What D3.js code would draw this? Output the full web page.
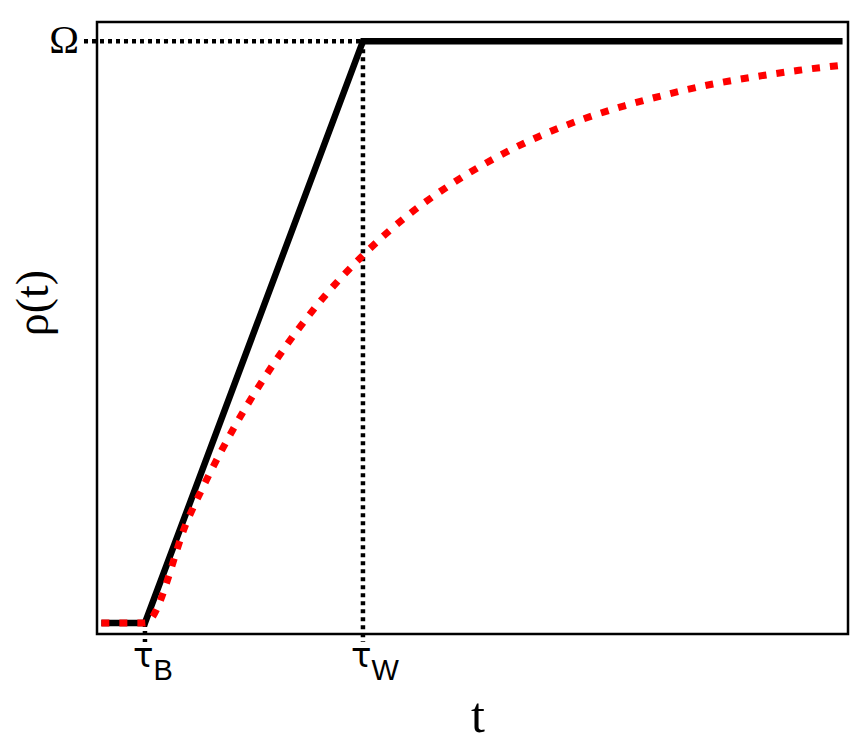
<!DOCTYPE html>
<html><head><meta charset="utf-8">
<script src="https://cdn.jsdelivr.net/npm/d3@7"></script>
<style>body{margin:0;background:#fff}svg{display:block}</style>
</head><body>
<script>
// ---- data ----
const tauB = 1.0, tauW = 2.0, omega = 1.0;
const blackT = [0.8, 1.0, 2.0, 4.2];
const blackRho = [0, 0, 1, 1];
const redT = [0.8, 1.0, 1.2, 1.4, 1.6, 1.8, 2.0, 2.2, 2.4, 2.6, 2.8, 3.0, 3.2, 3.4, 3.6, 3.8, 4.0, 4.18];
const redRho = [0, 0, 0.181, 0.330, 0.451, 0.551, 0.632, 0.699, 0.753, 0.798, 0.835, 0.865, 0.889, 0.909, 0.926, 0.939, 0.950, 0.958];
const xTickLabels = [{t: tauB, sub: "B"}, {t: tauW, sub: "W"}];
const yTickLabel = "Ω";

const W = 860, H = 744;
const svg = d3.select("body").append("svg").attr("width", W).attr("height", H);
const x = d3.scaleLinear().domain([0.78, 4.225]).range([97, 848]);
const y = d3.scaleLinear().domain([-0.019, 1.033]).range([634, 22]);

// frame
svg.append("rect").attr("x", x(0.78)).attr("y", y(1.033))
  .attr("width", x(4.225) - x(0.78)).attr("height", y(-0.019) - y(1.033))
  .attr("fill", "none").attr("stroke", "#000").attr("stroke-width", 2.5);

const line = d3.line().x(d => x(d[0])).y(d => y(d[1]));

// dotted guides
const dot = g => g.attr("stroke", "#000").attr("stroke-width", 4.5).attr("stroke-dasharray", "4,4").attr("fill", "none");
svg.append("line").attr("x1", 84).attr("x2", x(tauW)).attr("y1", y(omega)).attr("y2", y(omega)).call(dot);
svg.append("line").attr("x1", x(tauW)).attr("x2", x(tauW)).attr("y1", y(omega)).attr("y2", 642).call(dot);
svg.append("line").attr("x1", x(tauB)).attr("x2", x(tauB)).attr("y1", y(0)).attr("y2", 642).call(dot);

// black solid
svg.append("path").datum(blackT.map((t, i) => [t, blackRho[i]]))
  .attr("d", line).attr("fill", "none").attr("stroke", "#000")
  .attr("stroke-width", 6.5).attr("stroke-linejoin", "miter");

// red dashed
svg.append("path").datum(redT.map((t, i) => [t, redRho[i]]))
  .attr("d", d3.line().curve(d3.curveMonotoneX).x(d => x(d[0])).y(d => y(d[1])))
  .attr("fill", "none").attr("stroke", "#ff0000")
  .attr("stroke-width", 7).attr("stroke-dasharray", "8,10");

// Omega label
svg.append("text").attr("x", 64).attr("y", 53).attr("text-anchor", "middle")
  .attr("font-family", "Liberation Serif, Times New Roman, serif").attr("font-size", 40)
  .text(yTickLabel);

// tau labels
xTickLabels.forEach(d => {
  const tx = svg.append("text").attr("x", x(d.t) - 12).attr("y", 667)
    .attr("font-family", "DejaVu Sans, sans-serif").attr("font-size", 34);
  tx.append("tspan").text("τ");
  tx.append("tspan").attr("dy", 13).attr("font-family", "Liberation Sans, Arial, sans-serif")
    .attr("font-size", 29).text(d.sub);
});

// axis titles
svg.append("text").attr("transform", "translate(48,303) rotate(-90)").attr("text-anchor", "middle")
  .attr("font-family", "Liberation Serif, Times New Roman, serif").attr("font-size", 46).text("ρ(t)");
svg.append("text").attr("x", 478).attr("y", 732).attr("text-anchor", "middle")
  .attr("font-family", "Liberation Serif, Times New Roman, serif").attr("font-size", 50).text("t");
</script>
</body></html>
